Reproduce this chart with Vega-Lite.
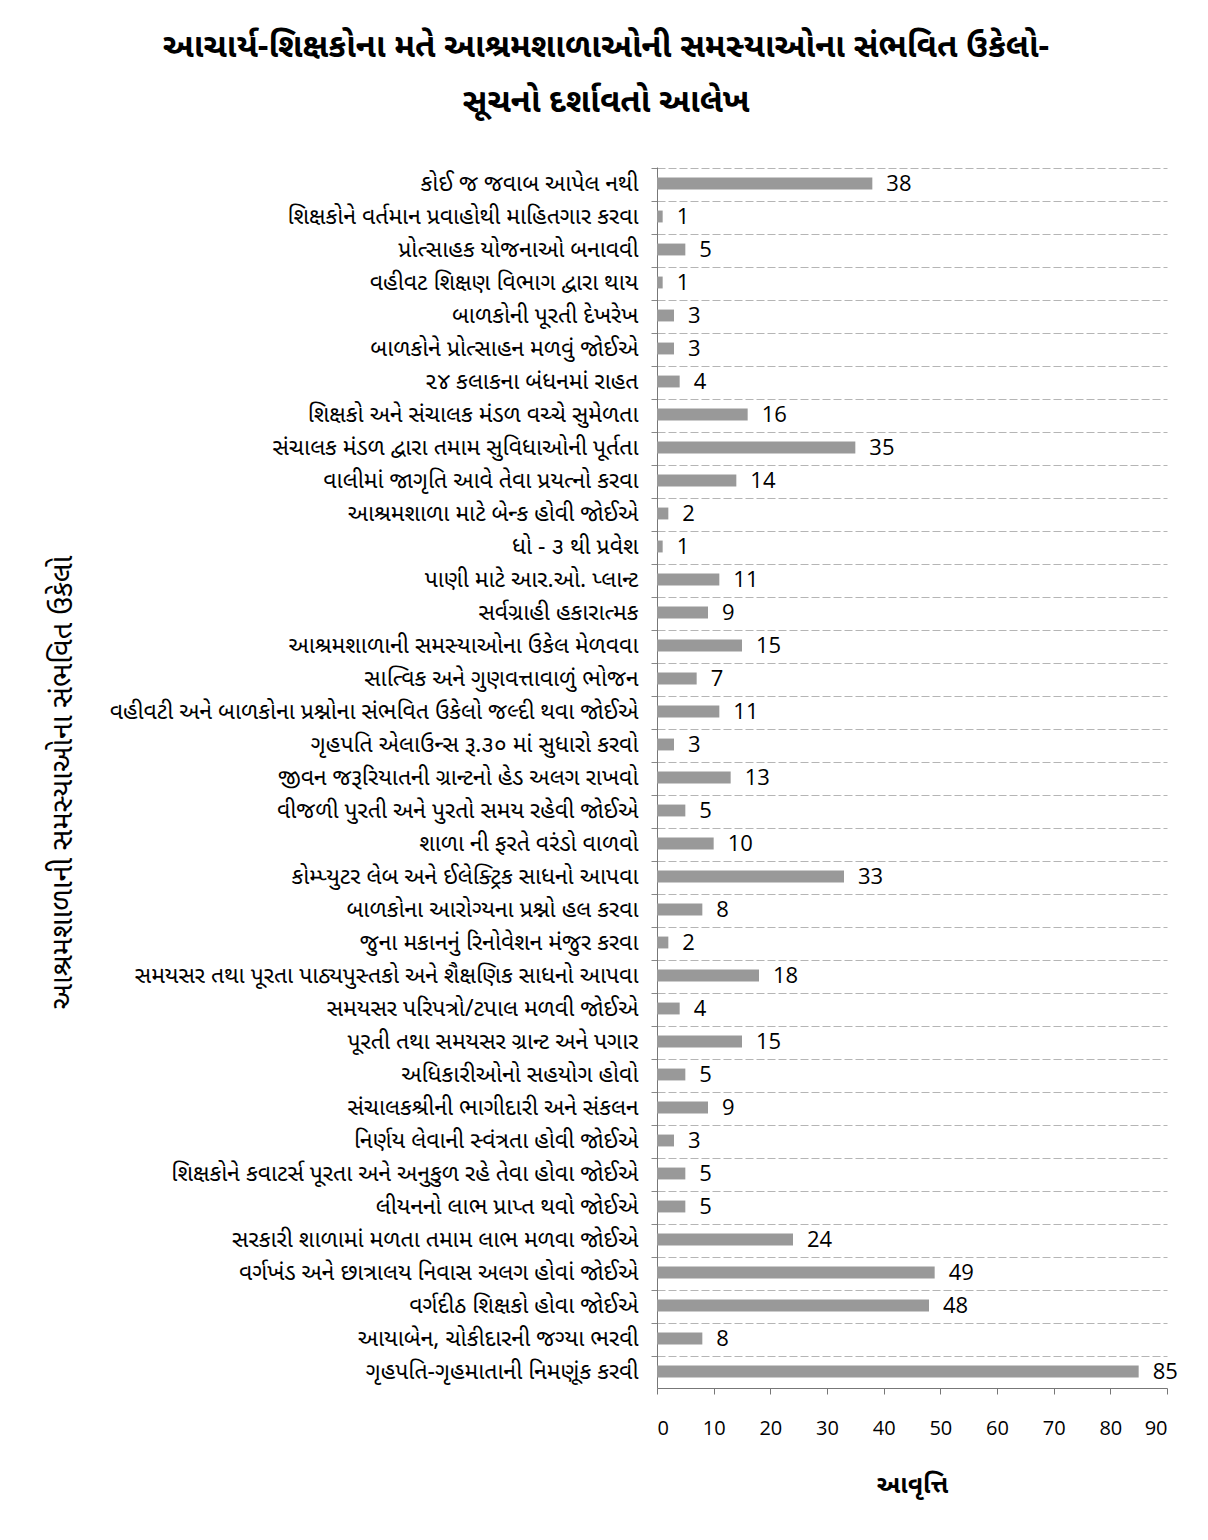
{
  "$schema": "https://vega.github.io/schema/vega-lite/v6.json",
  "autosize": {"type": "none"},
  "width": 510,
  "height": 1221,
  "padding": {"left": 657, "top": 167, "right": 41, "bottom": 152},
  "background": "white",
  "title": {
    "text": ["આચાર્ય-શિક્ષકોના મતે આશ્રમશાળાઓની સમસ્યાઓના સંભવિત ઉકેલો-", "સૂચનો દર્શાવતો આલેખ"],
    "anchor": "middle",
    "frame": "group",
    "dx": -306,
    "offset": 48,
    "fontSize": 33,
    "fontWeight": "bold",
    "lineHeight": 55,
    "font": "Noto Sans Gujarati, Noto Sans, sans-serif",
    "color": "#000"
  },
  "data": {
    "values": [
      {"label": "કોઈ જ જવાબ આપેલ નથી", "value": 38},
      {"label": "શિક્ષકોને વર્તમાન પ્રવાહોથી માહિતગાર કરવા", "value": 1},
      {"label": "પ્રોત્સાહક યોજનાઓ બનાવવી", "value": 5},
      {"label": "વહીવટ શિક્ષણ વિભાગ દ્વારા થાય", "value": 1},
      {"label": "બાળકોની પૂરતી દેખરેખ", "value": 3},
      {"label": "બાળકોને પ્રોત્સાહન મળવું જોઈએ", "value": 3},
      {"label": "૨૪ કલાકના બંધનમાં રાહત", "value": 4},
      {"label": "શિક્ષકો અને સંચાલક મંડળ વચ્ચે સુમેળતા", "value": 16},
      {"label": "સંચાલક મંડળ દ્વારા તમામ સુવિધાઓની પૂર્તતા", "value": 35},
      {"label": "વાલીમાં જાગૃતિ આવે તેવા પ્રયત્નો કરવા", "value": 14},
      {"label": "આશ્રમશાળા માટે બેન્ક હોવી જોઈએ", "value": 2},
      {"label": "ધો - ૩ થી પ્રવેશ", "value": 1},
      {"label": "પાણી માટે આર.ઓ. પ્લાન્ટ", "value": 11},
      {"label": "સર્વગ્રાહી હકારાત્મક", "value": 9},
      {"label": "આશ્રમશાળાની સમસ્યાઓના ઉકેલ મેળવવા", "value": 15},
      {"label": "સાત્વિક અને ગુણવત્તાવાળું ભોજન", "value": 7},
      {"label": "વહીવટી અને બાળકોના પ્રશ્નોના સંભવિત ઉકેલો જલ્દી થવા જોઈએ", "value": 11},
      {"label": "ગૃહપતિ એલાઉન્સ રૂ.૩૦ માં સુધારો કરવો", "value": 3},
      {"label": "જીવન જરૂરિયાતની ગ્રાન્ટનો હેડ અલગ રાખવો", "value": 13},
      {"label": "વીજળી પુરતી અને પુરતો સમય રહેવી જોઈએ", "value": 5},
      {"label": "શાળા ની ફરતે  વરંડો વાળવો", "value": 10},
      {"label": "કોમ્પ્યુટર લેબ અને ઈલેક્ટ્રિક સાધનો આપવા", "value": 33},
      {"label": "બાળકોના આરોગ્યના પ્રશ્નો હલ કરવા", "value": 8},
      {"label": "જુના મકાનનું રિનોવેશન મંજુર કરવા", "value": 2},
      {"label": "સમયસર તથા પૂરતા પાઠ્યપુસ્તકો અને શૈક્ષણિક સાધનો આપવા", "value": 18},
      {"label": "સમયસર પરિપત્રો/ટપાલ મળવી જોઈએ", "value": 4},
      {"label": "પૂરતી તથા સમયસર ગ્રાન્ટ અને પગાર", "value": 15},
      {"label": "અધિકારીઓનો સહયોગ હોવો", "value": 5},
      {"label": "સંચાલકશ્રીની ભાગીદારી અને સંકલન", "value": 9},
      {"label": "નિર્ણય લેવાની સ્વંત્રતા હોવી જોઈએ", "value": 3},
      {"label": "શિક્ષકોને કવાટર્સ પૂરતા અને અનુકુળ રહે તેવા હોવા જોઈએ", "value": 5},
      {"label": "લીયનનો લાભ પ્રાપ્ત થવો જોઈએ", "value": 5},
      {"label": "સરકારી શાળામાં મળતા તમામ લાભ મળવા જોઈએ", "value": 24},
      {"label": "વર્ગખંડ અને છાત્રાલય નિવાસ અલગ હોવાં જોઈએ", "value": 49},
      {"label": "વર્ગદીઠ શિક્ષકો હોવા જોઈએ", "value": 48},
      {"label": "આયાબેન, ચોકીદારની જગ્યા ભરવી", "value": 8},
      {"label": "ગૃહપતિ-ગૃહમાતાની નિમણૂંક કરવી", "value": 85}
    ]
  },
  "encoding": {
    "y": {
      "field": "label",
      "type": "nominal",
      "sort": null,
      "axis": {
        "title": "આશ્રમશાળાની સમસ્યાઓના સંભવિત ઉકેલો",
        "titleAngle": -90,
        "titleBaseline": "middle",
        "titleAlign": "center",
        "titleX": -595,
        "titleY": 615,
        "titleFontSize": 29,
        "titleFontWeight": "normal",
        "titleFont": "Noto Sans Gujarati, Noto Sans, sans-serif",
        "titleColor": "#000",
        "labelFont": "Noto Sans Gujarati, Noto Sans, sans-serif",
        "labelFontSize": 23,
        "labelColor": "#000",
        "labelLimit": 700,
        "labelPadding": 13,
        "tickSize": 6,
        "tickColor": "#888",
        "domainColor": "#777",
        "bandPosition": 0,
        "grid": true,
        "gridColor": "#b5b5b5",
        "gridDash": [8, 3]
      }
    },
    "x": {
      "field": "value",
      "type": "quantitative",
      "scale": {"domain": [0, 90]},
      "axis": {
        "title": "આવૃત્તિ",
        "values": [0, 10, 20, 30, 40, 50, 60, 70, 80, 90],
        "grid": false,
        "titleFont": "Noto Sans Gujarati, Noto Sans, sans-serif",
        "titleFontSize": 25,
        "titleFontWeight": "bold",
        "titleColor": "#000",
        "titlePadding": 34,
        "labelFont": "Open Sans",
        "labelFontSize": 20,
        "labelColor": "#000",
        "labelPadding": 24,
        "tickSize": 6,
        "tickColor": "#777",
        "domainColor": "#777"
      }
    }
  },
  "layer": [
    {
      "mark": {"type": "bar", "color": "#999", "height": {"band": 0.4}}
    },
    {
      "mark": {"type": "text", "align": "left", "baseline": "middle", "dx": 14, "fontSize": 22, "font": "Open Sans", "color": "#000"},
      "encoding": {"text": {"field": "value", "type": "quantitative"}}
    }
  ],
  "config": {"view": {"stroke": null}}
}
